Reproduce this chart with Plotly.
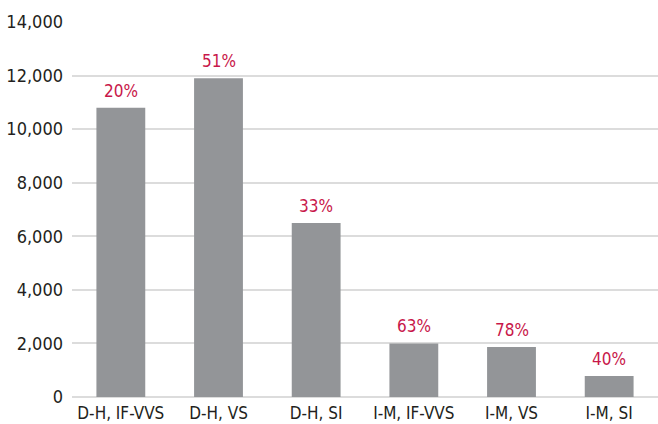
import plotly.graph_objects as go

categories = ["D-H, IF-VVS", "D-H, VS", "D-H, SI", "I-M, IF-VVS", "I-M, VS", "I-M, SI"]
values = [10800, 11900, 6500, 2000, 1870, 780]
share_labels = ["20%", "51%", "33%", "63%", "78%", "40%"]
y_ticks = [0, 2000, 4000, 6000, 8000, 10000, 12000, 14000]

FONT = "Liberation Sans Narrow, DejaVu Sans Condensed, Roboto, sans-serif"
BAR_COLOR = "#939598"
LABEL_COLOR = "#c8174a"

fig = go.Figure(
    go.Bar(
        x=categories,
        y=values,
        marker=dict(color=BAR_COLOR, line=dict(width=0)),
        width=0.5,
        hoverinfo="skip",
    )
)

for cat, val, lab in zip(categories, values, share_labels):
    fig.add_annotation(
        x=cat, y=val, text=lab, showarrow=False,
        yanchor="bottom", yshift=5,
        font=dict(family=FONT, size=17, color=LABEL_COLOR),
    )

fig.update_layout(
    width=658, height=424,
    margin=dict(l=72, r=0, t=22, b=27),
    paper_bgcolor="white", plot_bgcolor="white",
    showlegend=False,
    font=dict(family=FONT, size=17, color="#231f20"),
    xaxis=dict(
        showgrid=False, showline=False, ticks="", ticklabelstandoff=4,
        tickfont=dict(family=FONT, size=17, color="#231f20"),
    ),
    yaxis=dict(
        range=[0, 14000], tickvals=y_ticks, tickformat=",d",
        showgrid=True, gridcolor="#dcdcdc", gridwidth=1.5,
        zeroline=True, zerolinecolor="#dcdcdc", zerolinewidth=1.5,
        showline=False, ticks="", ticklabelstandoff=8,
        tickfont=dict(family=FONT, size=18, color="#231f20"),
    ),
)

fig.write_html("out.html")
